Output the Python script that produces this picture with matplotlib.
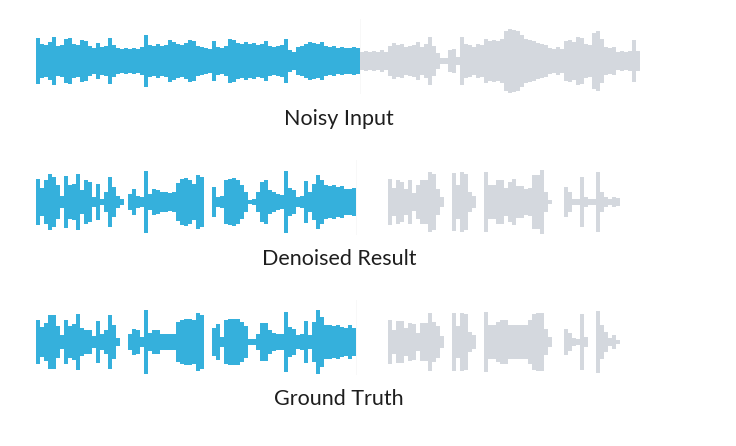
import numpy as np
import matplotlib.pyplot as plt

# envelope half-heights (px), one value every 4 px from the left edge
noisy_amp = [
    23, 17, 16, 19, 24, 15, 16, 22, 23, 17, 16, 21, 20, 15, 13, 18, 14, 15, 23, 16,
    13, 12, 13, 12, 13, 12, 14, 26, 16, 15, 17, 15, 16, 21, 19, 17, 16, 18, 21, 20,
    15, 14, 13, 12, 20, 14, 13, 15, 22, 21, 18, 17, 19, 17, 18, 16, 17, 20, 15, 14,
    15, 16, 22, 11, 9, 14, 15, 17, 19, 18, 17, 19, 15, 14, 15, 13, 14, 13, 13, 14,
    13,
    9, 10, 9, 10, 9, 11, 9, 15, 18, 16, 17, 14, 15, 16, 19, 14, 17, 24, 15, 8,
    3, 3, 11, 12, 4, 24, 17, 16, 14, 17, 16, 22, 20, 21, 20, 22, 30, 32, 31, 30,
    26, 22, 21, 20, 18, 17, 16, 13, 12, 14, 12, 20, 21, 19, 24, 23, 17, 16, 28, 30,
    22, 14, 13, 14, 9, 10, 9, 10, 21, 10,
]
denoised_amp = [
    23, 14, 22, 28, 25, 17, 6, 26, 17, 18, 28, 12, 22, 20, 5, 18, 3, 10, 25, 15,
    6, 3, 0, 8, 13, 6, 5, 31, 8, 13, 12, 10, 10, 9, 10, 19, 23, 24, 22, 18,
    27, 25, 0, 0, 15, 5, 6, 22, 23, 24, 22, 17, 10, 2, 3, 10, 20, 22, 12, 10,
    8, 7, 31, 14, 12, 5, 6, 21, 10, 18, 27, 22, 17, 16, 17, 15, 16, 13, 13, 14,
    0, 0, 0, 0, 0, 0, 0, 0,
    23, 14, 22, 20, 13, 22, 9, 17, 22, 22, 30, 28, 13, 5, 0, 0, 29, 17, 30, 28,
    10, 6, 0, 0, 30, 17, 17, 22, 22, 14, 20, 23, 16, 16, 13, 14, 27, 27, 32, 10,
    2, 0, 0, 0, 15, 10, 3, 3, 25, 5, 3, 3, 30, 10, 5, 3, 5, 4,
]
truth_amp = [
    22, 15, 19, 27, 27, 16, 7, 22, 16, 18, 28, 14, 12, 12, 6, 21, 8, 12, 27, 17,
    4, 0, 0, 8, 13, 12, 5, 32, 9, 12, 12, 8, 8, 8, 8, 20, 22, 23, 23, 22,
    29, 27, 0, 0, 14, 18, 5, 22, 23, 23, 23, 20, 16, 3, 3, 8, 19, 19, 12, 9,
    8, 8, 30, 15, 13, 7, 8, 21, 7, 20, 32, 25, 17, 17, 16, 17, 15, 14, 17, 14,
    0, 0, 0, 0, 0, 0, 0, 0,
    22, 12, 21, 21, 14, 19, 18, 9, 19, 19, 29, 20, 16, 6, 0, 0, 29, 16, 29, 28,
    10, 7, 0, 0, 30, 17, 17, 20, 22, 22, 17, 17, 17, 17, 17, 22, 28, 29, 29, 13,
    5, 0, 0, 0, 13, 9, 4, 3, 28, 5, 0, 0, 31, 17, 10, 4, 7, 2,
]
labels = ['Noisy Input', 'Denoised Result', 'Ground Truth']
# first sample index drawn in grey (the part not yet played)
split_idx = [81, 80, 80]

# layout in pixels
x_start = 38
step = 4
centres = [61, 202, 342]
label_y = [125, 265, 405]
label_x = 339

blue = '#35b0dc'
grey = '#d4d8de'

fig = plt.figure(figsize=(7.36, 4.46), dpi=100)
ax = fig.add_axes([0, 0, 1, 1])
ax.set_xlim(0, 736)
ax.set_ylim(446, 0)
ax.axis('off')

for amp, cy, split, lab, ly in zip([noisy_amp, denoised_amp, truth_amp],
                                   centres, split_idx, labels, label_y):
    amp = np.array(amp, dtype=float)
    x = x_start + step * np.arange(len(amp))
    cols = [blue if i < split else grey for i in range(len(amp))]
    ax.bar(x, 2 * amp, bottom=cy - amp, width=step * 0.92, color=cols,
           linewidth=0, align='center')
    # faint playhead line
    xs = x_start + step * split - step / 2
    ax.plot([xs, xs], [cy - 42, cy + 32], color='#f7f7f7', lw=0.6, zorder=0)
    ax.text(label_x, ly, lab, ha='center', va='baseline', fontsize=15.5,
            family='Lato', color='#1e1e1e')

fig.savefig('out.png', dpi=100)
